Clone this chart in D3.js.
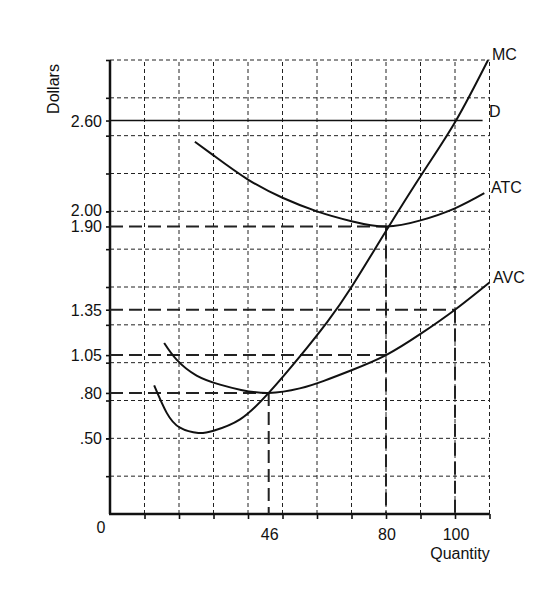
<!DOCTYPE html>
<html>
<head>
<meta charset="utf-8">
<script src="https://cdn.jsdelivr.net/npm/d3@7"></script>
<style>
  html, body { margin: 0; padding: 0; background: #fff; }
  svg text { font-family: "Liberation Sans", Arial, sans-serif; fill: #111; }
</style>
</head>
<body>
<svg id="chart" width="560" height="595"></svg>
<script>
// ---- data ----
const quantityTicks = [46, 80, 100];
const quantityLabels = ["46", "80", "100"];
const dollarTicks = [0.50, 0.80, 1.05, 1.35, 1.90, 2.00, 2.60];
const dollarLabels = [".50", ".80", "1.05", "1.35", "1.90", "2.00", "2.60"];
const gridQuantities = [10, 20, 30, 40, 50, 60, 70, 80, 90, 100, 110];
const gridDollars = [0.25, 0.5, 0.75, 1.0, 1.25, 1.5, 1.75, 2.0, 2.25, 2.5, 2.75, 3.0];

const mcQ = [12.8, 16.4, 20.3, 25.6, 30, 37.7, 46, 55, 63, 70, 80, 90.8, 100.3, 109.6];
const mcV = [0.85, 0.67, 0.57, 0.535, 0.55, 0.625, 0.80, 1.04, 1.27, 1.50, 1.87, 2.26, 2.60, 3.00];

const atcQ = [24.6, 30, 40, 50, 60, 70, 80, 90, 100, 108.5];
const atcV = [2.46, 2.37, 2.21, 2.09, 2.00, 1.935, 1.90, 1.94, 2.02, 2.12];

const avcQ = [15.7, 19.3, 25.1, 31.9, 38, 46, 55, 62, 70, 80, 90, 100, 110];
const avcV = [1.13, 1.02, 0.915, 0.855, 0.82, 0.80, 0.83, 0.88, 0.95, 1.05, 1.19, 1.35, 1.53];

const demandQ = [0, 108];
const demandV = [2.60, 2.60];

// reference (dashed) lines: [quantity, price]
const refQ = [46, 80, 80, 100];
const refV = [0.80, 1.05, 1.90, 1.35];

// ---- drawing ----
const svg = d3.select("#chart");
const x = d3.scaleLinear().domain([0, 110]).range([110, 489.5]);
const y = d3.scaleLinear().domain([0, 3]).range([514, 60]);

// grid
const grid = svg.append("g").attr("stroke", "#222").attr("stroke-width", 1)
  .attr("stroke-dasharray", "4,3").attr("fill", "none");
grid.selectAll("line.v").data(gridQuantities).join("line").attr("class", "v")
  .attr("x1", d => x(d)).attr("x2", d => x(d)).attr("y1", y(0)).attr("y2", y(3));
grid.selectAll("line.h").data(gridDollars).join("line").attr("class", "h")
  .attr("x1", x(0)).attr("x2", x(110)).attr("y1", d => y(d)).attr("y2", d => y(d));

// axes
const xAxis = d3.axisBottom(x).tickValues(gridQuantities).tickSize(5).tickFormat("");
const yAxis = d3.axisLeft(y).tickValues(gridDollars.concat(dollarTicks)).tickSize(4).tickFormat("");
const gx = svg.append("g").attr("transform", `translate(0,${y(0)})`).call(xAxis);
const gy = svg.append("g").attr("transform", `translate(${x(0)},0)`).call(yAxis);
[gx, gy].forEach(g => {
  g.select(".domain").remove();
  g.selectAll(".tick line").attr("stroke", "#111").attr("stroke-width", 1.6);
});
svg.append("line").attr("x1", x(0)).attr("x2", x(0)).attr("y1", y(0)).attr("y2", y(3))
  .attr("stroke", "#111").attr("stroke-width", 2.5);
svg.append("line").attr("x1", x(0) - 1).attr("x2", x(110)).attr("y1", y(0)).attr("y2", y(0))
  .attr("stroke", "#111").attr("stroke-width", 2.5);

// dashed reference lines
const refs = svg.append("g").attr("stroke", "#222").attr("stroke-width", 2)
  .attr("stroke-dasharray", "13,6").attr("fill", "none");
refQ.forEach((q, i) => {
  refs.append("line").attr("x1", x(0)).attr("x2", x(q)).attr("y1", y(refV[i])).attr("y2", y(refV[i]));
});
[[46, 0.80], [80, 1.90], [100, 1.35]].forEach(([q, v]) => {
  refs.append("line").attr("x1", x(q)).attr("x2", x(q)).attr("y1", y(v)).attr("y2", y(0));
});

// curves
const line = d3.line().x(d => x(d[0])).y(d => y(d[1])).curve(d3.curveNatural);
const curves = [[mcQ, mcV], [atcQ, atcV], [avcQ, avcV]];
curves.forEach(([qs, vs]) => {
  svg.append("path").datum(qs.map((q, i) => [q, vs[i]])).attr("d", line)
    .attr("fill", "none").attr("stroke", "#111").attr("stroke-width", 2);
});
svg.append("path").datum(demandQ.map((q, i) => [q, demandV[i]]))
  .attr("d", d3.line().x(d => x(d[0])).y(d => y(d[1])))
  .attr("fill", "none").attr("stroke", "#111").attr("stroke-width", 1.6);

// curve labels
const fs = 16;
svg.append("text").attr("x", 492).attr("y", 60).attr("font-size", fs).text("MC");
svg.append("text").attr("x", 489).attr("y", 117).attr("font-size", fs).text("D");
svg.append("text").attr("x", 491).attr("y", 193).attr("font-size", fs).text("ATC");
svg.append("text").attr("x", 493).attr("y", 283).attr("font-size", fs).text("AVC");

// tick labels
svg.selectAll("text.ylab").data(dollarTicks).join("text").attr("class", "ylab")
  .attr("x", 102).attr("y", d => y(d) + 6 - (d === 2.00 ? 1 : 0)).attr("text-anchor", "end")
  .attr("font-size", fs).text((d, i) => dollarLabels[i]);
svg.selectAll("text.xlab").data(quantityTicks).join("text").attr("class", "xlab")
  .attr("x", d => x(d) + 1).attr("y", 540).attr("text-anchor", "middle")
  .attr("font-size", fs).text((d, i) => quantityLabels[i]);
svg.append("text").attr("x", 101).attr("y", 533).attr("text-anchor", "middle")
  .attr("font-size", fs).text("0");
svg.append("text").attr("x", 460).attr("y", 559).attr("text-anchor", "middle")
  .attr("font-size", fs).text("Quantity");
svg.append("text").attr("transform", "translate(59,89) rotate(-90)")
  .attr("text-anchor", "middle").attr("font-size", fs).text("Dollars");
</script>
</body>
</html>
